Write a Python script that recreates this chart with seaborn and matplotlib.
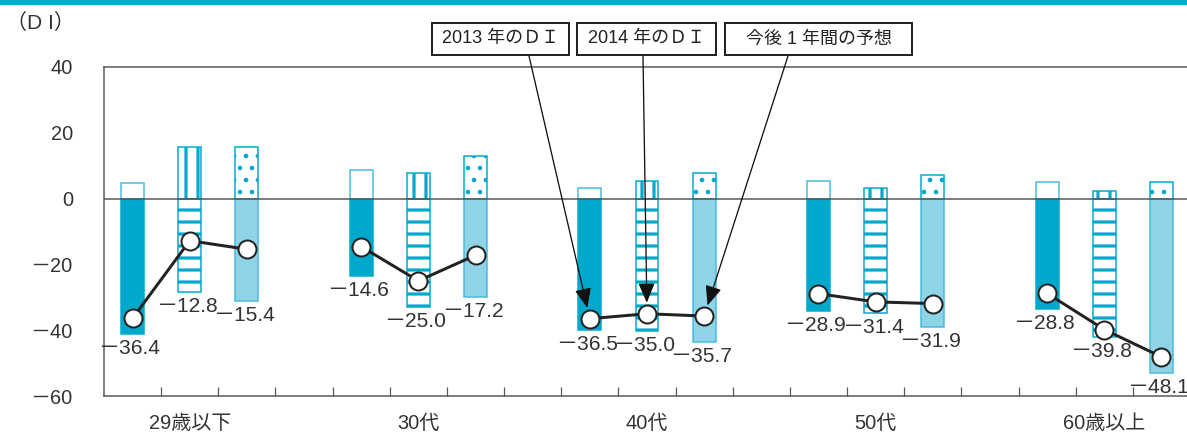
import numpy as np
import pandas as pd
import seaborn as sns
import matplotlib.pyplot as plt
from matplotlib import font_manager
from matplotlib.patches import Rectangle

groups = ['29歳以下', '30代', '40代', '50代', '60歳以上']
series = ['2013 年のＤＩ', '2014 年のＤＩ', '今後 1 年間の予想']

# upper (positive) and lower (negative) part of each bar, DI = sum
pos_2013 = [4.7, 8.8, 3.3, 5.3, 4.9]
neg_2013 = [-41.1, -23.4, -39.8, -34.2, -33.7]
di_2013 = [-36.4, -14.6, -36.5, -28.9, -28.8]

pos_2014 = [15.6, 7.9, 5.3, 3.3, 2.4]
neg_2014 = [-28.4, -32.9, -40.3, -34.7, -42.2]
di_2014 = [-12.8, -25.0, -35.0, -31.4, -39.8]

pos_next = [15.6, 12.8, 7.8, 7.1, 4.9]
neg_next = [-31.0, -30.0, -43.5, -39.0, -53.0]
di_next = [-15.4, -17.2, -35.7, -31.9, -48.1]

yticks = [-60, -40, -20, 0, 20, 40]

SOLID = '#00a9cc'
LIGHT = '#8fd4e6'
EDGE = '#45bcdb'

sns.set_theme(style='white')
names = {f.name for f in font_manager.fontManager.ttflist}
latin = 'Liberation Sans Narrow' if 'Liberation Sans Narrow' in names else 'Liberation Sans'
plt.rcParams['font.family'] = [latin, 'Noto Sans CJK JP', 'DejaVu Sans']
plt.rcParams['hatch.linewidth'] = 3.2

rows = []
for si, (p, n, d) in enumerate([(pos_2013, neg_2013, di_2013),
                                (pos_2014, neg_2014, di_2014),
                                (pos_next, neg_next, di_next)]):
    for gi, g in enumerate(groups):
        rows.append({'group': g, 'series': series[si], 'si': si,
                     'slot': gi * 4 + si, 'pos': p[gi], 'neg': n[gi], 'di': d[gi]})
df = pd.DataFrame(rows)

fig = plt.figure(figsize=(1187 / 72, 437 / 72), dpi=72)
ax = fig.add_axes([104 / 1187, 41 / 437, 1086 / 1187, 329 / 437])

styles = {
    0: (dict(fc='white', ec=EDGE, hatch=None), dict(fc=SOLID, ec=SOLID, hatch=None)),
    1: (dict(fc='white', ec=SOLID, hatch='|'), dict(fc='white', ec=SOLID, hatch='-')),
    2: (dict(fc='white', ec=SOLID, hatch='.'), dict(fc=LIGHT, ec=EDGE, hatch=None)),
}
w = 0.4
for si, sub in df.groupby('si'):
    up, lo = styles[si]
    top = ax.bar(sub['slot'], sub['pos'], width=w, lw=1.5, zorder=2, **up)
    ax.bar(sub['slot'], sub['neg'], width=w, lw=1.5, zorder=2, **lo)
    if si == 2:
        # finer dots than the stripes
        for p in top.patches:
            if hasattr(p, 'set_hatch_linewidth'):
                p.set_hatch_linewidth(2.2)

ax.axhline(0, color='#555555', lw=1.5, zorder=3)

sns.lineplot(data=df, x='slot', y='di', units='group', estimator=None, sort=True,
             color='#222222', lw=3, marker='o', markersize=18,
             markerfacecolor='white', markeredgecolor='#222222', markeredgewidth=2,
             legend=False, ax=ax, zorder=5)

for _, r in df.iterrows():
    ax.annotate(f"－{abs(r['di']):.1f}", xy=(r['slot'], r['neg']), xytext=(-3, -5),
                textcoords='offset points', ha='center', va='top',
                fontsize=21, color='#333333')

ax.set_xlim(-0.5, 18.5)
ax.set_ylim(-60, 40)
ax.set_xlabel('')
ax.set_ylabel('')

ax.set_yticks(yticks)
ax.set_yticklabels([f'－{abs(v)}' if v < 0 else str(v) for v in yticks],
                   fontsize=20, color='#333333')
ax.tick_params(axis='y', direction='out', length=7, width=1.3, color='#555555', pad=24)
ax.yaxis.get_major_ticks()[0].tick1line.set_visible(False)
ax.yaxis.get_major_ticks()[-1].tick1line.set_visible(False)

ax.set_xticks([gi * 4 + 1 for gi in range(len(groups))])
ax.set_xticklabels(groups, fontsize=20, color='#333333')
ax.set_xticks(np.arange(0.5, 18, 1), minor=True)
ax.tick_params(axis='x', which='major', length=0, pad=18)
ax.tick_params(axis='x', which='minor', direction='in', length=9, width=1.2,
               color='#555555', bottom=True)

for side in ['left', 'top', 'bottom']:
    ax.spines[side].set_color('#555555')
    ax.spines[side].set_linewidth(1.5)
ax.spines['right'].set_visible(False)

# top colour band and unit label
fig.add_artist(Rectangle((0, 1 - 5 / 437), 1, 5 / 437, transform=fig.transFigure,
                         color=SOLID, lw=0))
fig.text(6 / 1187, 1 - 23 / 437, '（D I）', fontsize=21, va='center', color='#333333')

# legend boxes with arrows pointing at the 40代 group
boxes = [(432, 569), (577, 716), (725, 912)]
starts = [529, 643, 788]
for si, (x0, x1) in enumerate(boxes):
    fig.add_artist(Rectangle((x0 / 1187, 1 - 55 / 437), (x1 - x0) / 1187, 32 / 437,
                             transform=fig.transFigure, fc='white', ec='#222222', lw=2))
    fig.text((x0 + x1) / 2 / 1187, 1 - 39 / 437, series[si], fontsize=18,
             ha='center', va='center', color='#222222')
    r = df[(df['si'] == si) & (df['group'] == '40代')].iloc[0]
    ax.annotate('', xy=(r['slot'], r['di']), xycoords='data',
                xytext=(starts[si] / 1187, 1 - 56 / 437), textcoords='figure fraction',
                arrowprops=dict(arrowstyle='-|>,head_length=0.6,head_width=0.25',
                                mutation_scale=28, color='#111111', lw=1.3,
                                shrinkA=0, shrinkB=11),
                zorder=6)

fig.savefig('out.png', dpi=72)
